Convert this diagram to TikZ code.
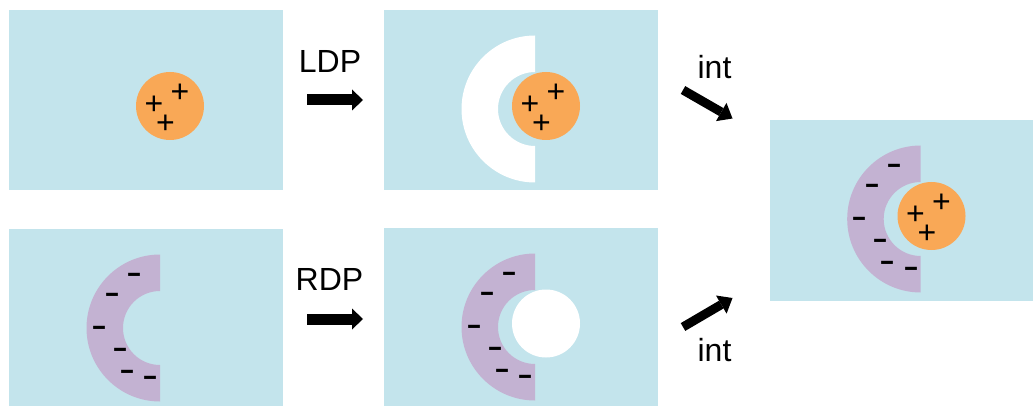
\documentclass[tikz,border=0pt]{standalone}
\usepackage{fontspec}
\setmainfont{Liberation Sans}
\newfontfamily\chgfont[FakeStretch=1.2]{Liberation Sans}
\usetikzlibrary{arrows.meta,calc}

\definecolor{water}{RGB}{195,228,236}
\definecolor{protein}{RGB}{249,168,86}
\definecolor{pocket}{RGB}{195,178,210}

\tikzset{
  panel/.style={fill=water, draw=none},
  label/.style={font=\fontsize{32pt}{38pt}\selectfont, inner sep=0pt, anchor=base},
  poschg/.style={font=\fontsize{32pt}{38pt}\selectfont, inner sep=0pt, anchor=base},
  negchg/.style={font=\chgfont\fontsize{40pt}{44pt}\selectfont, inner sep=0pt, anchor=base},
  fatarrow/.style={line width=11pt, -{Triangle[width=21pt,length=11pt,line width=0pt]}},
  slantarrow/.style={line width=9pt, -{Triangle[width=21pt,length=13pt,line width=0pt]}},
}

% left half of a ring centred at #1
\newcommand{\halfring}[2]{%
  \fill[#2] ($(#1)+(0,-73.5)$) arc[start angle=270, end angle=90, radius=73.5]
    -- ($(#1)+(0,37)$) arc[start angle=90, end angle=270, radius=37] -- cycle;}

% three positive charges on a disc centred at #1
\newcommand{\pluses}[1]{%
  \node[poschg] at ($(#1)+(-16,8.7)$) {+};
  \node[poschg] at ($(#1)+(10,-3.8)$) {+};
  \node[poschg] at ($(#1)+(-4.5,27.7)$) {+};}

% six negative charges along a ring centred at #1
\newcommand{\minuses}[1]{%
  \foreach \dx/\dy in {-26/-53, -48/-33, -61/0, -40/22, -33/43.5, -9.5/50}
    \node[negchg] at ($(#1)+(\dx,\dy+10.8)$) {-};}

\begin{document}
\begin{tikzpicture}[x=1pt, y=-1pt]
\useasboundingbox (0,0) rectangle (1033,406);

% panels
\fill[panel] (9,10) rectangle (283,190.5);
\fill[panel] (384,10) rectangle (658,190.5);
\fill[panel] (9,229) rectangle (283,406);
\fill[panel] (384,228) rectangle (658,406);
\fill[panel] (770,120) rectangle (1033,300.5);

% centres
\coordinate (ligA) at (170,106);
\coordinate (ringB) at (535,109);
\coordinate (ligB) at (546,106);
\coordinate (ringC) at (160,328);
\coordinate (ringD) at (535,327);
\coordinate (holeD) at (546,323.5);
\coordinate (ringE) at (920.7,219);
\coordinate (ligE) at (931.5,216);

% ligand alone
\fill[protein] (ligA) circle[radius=34];
\pluses{ligA}

% ligand with its pocket carved out
\halfring{ringB}{white}
\fill[protein] (ligB) circle[radius=34];
\pluses{ligB}

% receptor pocket alone
\halfring{ringC}{pocket}
\minuses{ringC}

% receptor with ligand space carved out
\halfring{ringD}{pocket}
\fill[white] (holeD) circle[radius=34];
\minuses{ringD}

% complex
\halfring{ringE}{pocket}
\minuses{ringE}
\fill[protein] (ligE) circle[radius=34];
\pluses{ligE}

% arrows and labels
\coordinate (ldpS) at (307,100);
\coordinate (ldpE) at (363,100);
\coordinate (rdpS) at (307,319);
\coordinate (rdpE) at (363,319);
\coordinate (intTS) at (683,90);
\coordinate (intTE) at (732.5,118.5);
\coordinate (intBS) at (683,327);
\coordinate (intBE) at (732.5,298);

\draw[fatarrow] (ldpS) -- (ldpE);
\draw[fatarrow] (rdpS) -- (rdpE);
\draw[slantarrow] (intTS) -- (intTE);
\draw[slantarrow] (intBS) -- (intBE);

\node[label] (ldp) at (330,73) {LDP};
\node[label] (rdp) at (329.5,290) {RDP};
\node[label] (intT) at (714.5,79) {int};
\node[label] (intB) at (714.5,361.5) {int};
\end{tikzpicture}
\end{document}
